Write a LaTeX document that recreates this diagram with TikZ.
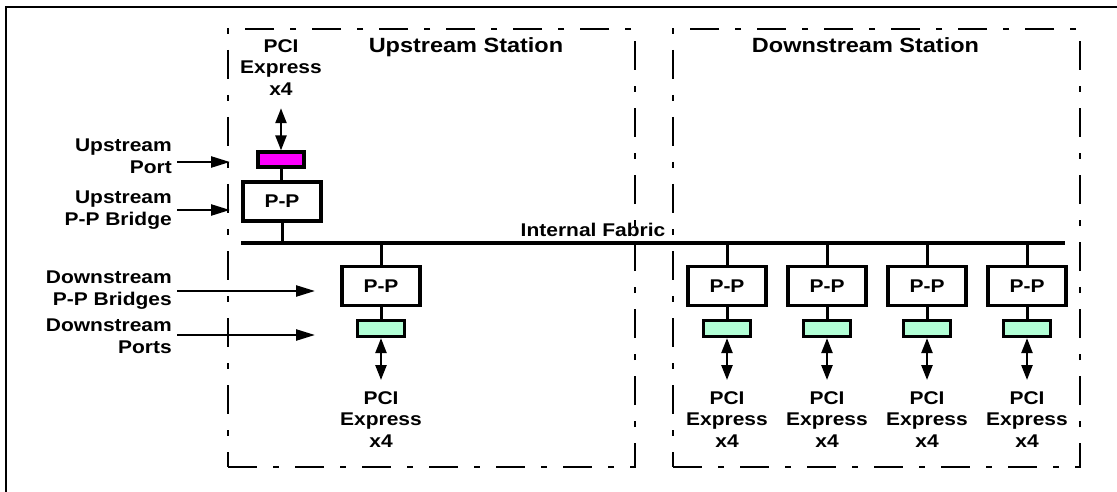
\documentclass[tikz,border=0pt]{standalone}
\usepackage{fontspec}
\setmainfont{Liberation Sans}[FakeStretch=1.14]
\usetikzlibrary{arrows.meta}

\definecolor{upportfill}{RGB}{255,0,255}
\definecolor{dnportfill}{RGB}{178,255,214}

\tikzset{
  lbl/.style={font=\fontsize{18.4}{21.5}\selectfont\bfseries, inner sep=0pt, align=center},
  sidelbl/.style={lbl, align=right, anchor=north east},
  title/.style={font=\fontsize{20.6}{23}\selectfont\bfseries, inner sep=0pt, anchor=base},
  frame/.style={line width=2.4pt},
  station/.style={draw, line width=2.6pt, dash pattern=on 29pt off 16pt on 6pt off 16pt, inner sep=0pt},
  bridge/.style={draw, line width=3.2pt, fill=white, minimum width=78pt, minimum height=39pt, inner sep=0pt,
                 font=\fontsize{18.4}{21}\selectfont\bfseries},
  uport/.style={draw, line width=3.2pt, fill=upportfill, minimum width=46pt, minimum height=15pt, inner sep=0pt},
  dport/.style={draw, line width=3.2pt, fill=dnportfill, minimum width=47pt, minimum height=16pt, inner sep=0pt},
  bus/.style={line width=3.4pt},
  wire/.style={line width=3pt},
  arr/.style={line width=2.4pt, -{Triangle[length=19pt,width=11pt]}},
  dbl/.style={line width=2.4pt, {Triangle[length=15pt,width=11pt]}-{Triangle[length=15pt,width=11pt]}},
}

\begin{document}
\begin{tikzpicture}[x=1pt, y=-1pt]
\useasboundingbox (0,0) rectangle (1117,492);

% outer frame (only top and left edges fall inside the page)
\draw[frame] (6,492) -- (6,7) -- (1117,7);

% stations
\node[station, minimum width=407pt, minimum height=438pt] (ust) at (431.5,248) {};
\node[station, minimum width=407pt, minimum height=438pt] (dst) at (876.5,248) {};
\node[title] (ustt) at (466,53) {Upstream Station};
\node[title] (dstt) at (865.5,53) {Downstream Station};

% internal fabric
\coordinate (busL) at (241,243);
\coordinate (busR) at (1065,243);
\draw[bus] (busL) -- (busR);
\node[lbl, anchor=base] (fab) at (593,236) {Internal Fabric};

% upstream side
\node[lbl, anchor=north] (upci) at (281,39) {PCI\\Express\\x4};
\node[uport] (up) at (281,159.5) {};
\node[bridge] (ub) at (282,201.5) {P-P};
\draw[wire] (up.south) -- (up.south |- ub.north);
\draw[wire] (ub.south) -- (ub.south |- busL);
\draw[dbl, shorten <=13pt] (upci.south) -- (up.north);

% downstream bridges and ports
\foreach \n/\x in {0/381, 1/727, 2/827, 3/927, 4/1027} {
  \node[bridge] (db\n) at (\x,286) {P-P};
  \node[dport] (dp\n) at (\x,328.5) {};
  \node[lbl, anchor=north] (dpci\n) at (\x,391) {PCI\\Express\\x4};
  \draw[wire] (db\n.north) -- (db\n.north |- busL);
  \draw[wire] (db\n.south) -- (dp\n.north);
  \draw[dbl, shorten >=11pt] (dp\n.south) -- (dpci\n.north);
}

% side labels with pointers
\node[sidelbl] (lup) at (172,139) {Upstream\\Port};
\node[sidelbl] (lub) at (172,191) {Upstream\\P-P Bridge};
\node[sidelbl] (ldb) at (172,271) {Downstream\\P-P Bridges};
\node[sidelbl] (ldp) at (172,319) {Downstream\\Ports};

\coordinate (tup) at (230,162);
\coordinate (tub) at (230,210);
\coordinate (tdb) at (315,291);
\coordinate (tdp) at (315,335);
\draw[arr] ([xshift=5pt]lup.east |- tup) -- (tup);
\draw[arr] ([xshift=5pt]lub.east |- tub) -- (tub);
\draw[arr] ([xshift=5pt]ldb.east |- tdb) -- (tdb);
\draw[arr] ([xshift=5pt]ldp.east |- tdp) -- (tdp);
\end{tikzpicture}
\end{document}
